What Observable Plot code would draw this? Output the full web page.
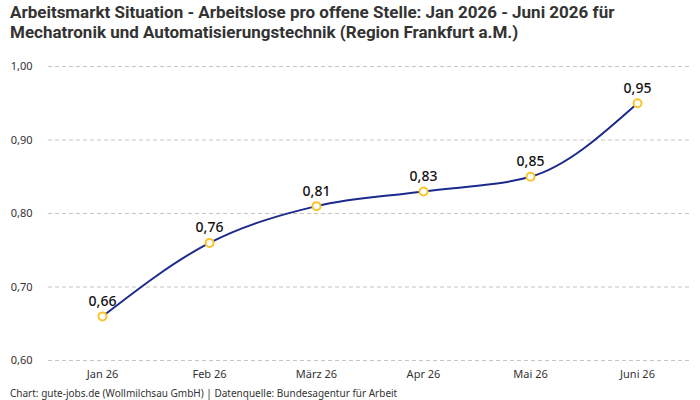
<!DOCTYPE html>
<html><head><meta charset="utf-8">
<script src="https://cdn.jsdelivr.net/npm/d3@7"></script>
<script src="https://cdn.jsdelivr.net/npm/@observablehq/plot@0.6"></script>
<style>
body{margin:0;background:#fff;width:700px;height:400px;overflow:hidden;font-family:"Noto Sans",sans-serif;}
#title{font-family:"Roboto",sans-serif;font-weight:bold;font-size:17px;line-height:20px;color:#333;padding:2px 10px 0 10px;height:46px;box-sizing:border-box;}
#chart{height:336px}
#footer{font-size:10px;color:#333;padding-left:10px;line-height:12px;margin-top:5px}
</style></head>
<body>
<div id="title">Arbeitsmarkt Situation - Arbeitslose pro offene Stelle: Jan 2026 - Juni 2026 für<br>Mechatronik und Automatisierungstechnik (Region Frankfurt a.M.)</div>
<div id="chart"></div>
<div id="footer">Chart: gute-jobs.de (Wollmilchsau GmbH) | Datenquelle: Bundesagentur für Arbeit</div>
<script>
const months = ["Jan 26","Feb 26","März 26","Apr 26","Mai 26","Juni 26"];
const values = [0.66,0.76,0.81,0.83,0.85,0.95];
const yTicks = [0.6,0.7,0.8,0.9,1.0];
const data = months.map((m,i)=>({month:m,value:values[i]}));
const fmt = v => d3.format(".2f")(v).replace(".",",");
const chart = Plot.plot({
  width:700, height:336,
  marginTop:20, marginBottom:22, marginLeft:48, marginRight:10,
  style:{fontFamily:"'Noto Sans',sans-serif",fontSize:"11px",color:"#333",background:"#fff"},
  x:{type:"point",domain:months,padding:0.5,label:null},
  y:{domain:[0.6,1.0],label:null},
  marks:[
    Plot.gridY(yTicks,{stroke:"#c4c4c4",strokeOpacity:1,strokeDasharray:"4,3"}),
    Plot.axisY(yTicks,{tickSize:0,tickPadding:16,tickFormat:fmt,fontSize:11}),
    Plot.axisX({tickSize:0,tickPadding:10,fontSize:11}),
    Plot.line(data,{x:"month",y:"value",stroke:"#1b2a8c",strokeWidth:2,curve:"monotone-x"}),
    Plot.dot(data,{x:"month",y:"value",r:4,stroke:"#f7c52b",strokeWidth:2,fill:"#fff"}),
    Plot.text(data,{x:"month",y:"value",text:d=>fmt(d.value),dy:-15,fontSize:14,fontWeight:500,fill:"#111"})
  ]
});
document.getElementById("chart").appendChild(chart);
</script>
</body></html>
